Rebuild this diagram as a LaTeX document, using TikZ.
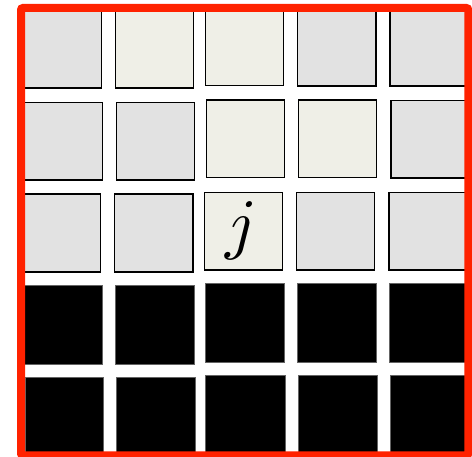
\documentclass[tikz,border=0pt]{standalone}
\definecolor{cellgray}{RGB}{226,226,226}
\definecolor{cellbeige}{RGB}{239,239,231}
\definecolor{framered}{RGB}{255,34,0}
\definecolor{darkedge}{RGB}{100,100,100}
\tikzset{
  graycell/.style={fill=cellgray,draw=black,line width=1.3pt},
  beigecell/.style={fill=cellbeige,draw=black,line width=1.3pt},
  blackcell/.style={fill=black,draw=darkedge,line width=0.8pt},
  frame/.style={draw=framered,line width=8pt,rounded corners=2pt}
}
\newcommand{\cellbox}[5]{\path[#1] (#2,#3) rectangle (#4,#5);}
\begin{document}
\begin{tikzpicture}[x=1pt,y=-1pt]
\useasboundingbox (0,0) rectangle (472,457);
% row 1
\cellbox{graycell}{23.3}{10}{101.3}{88}
\cellbox{beigecell}{115.7}{10}{193.7}{88}
\cellbox{beigecell}{205.3}{7.7}{283.7}{85.7}
\cellbox{graycell}{297.7}{8}{376}{86}
\cellbox{graycell}{390}{8}{468}{86}
% row 2
\cellbox{graycell}{24.3}{102.3}{102.3}{180}
\cellbox{graycell}{116.7}{102.3}{194.7}{180}
\cellbox{beigecell}{206.3}{100}{284.3}{177.7}
\cellbox{beigecell}{298.7}{100}{376.7}{177.7}
\cellbox{graycell}{391}{100.7}{469}{178}
% row 3
\cellbox{graycell}{22.7}{194}{100.7}{272}
\cellbox{graycell}{114.7}{194}{193}{272}
\cellbox{beigecell}{204.3}{192.3}{282.7}{270}
\cellbox{graycell}{296.3}{192.3}{374.7}{270}
\cellbox{graycell}{389}{192.3}{467}{270}
% row 4
\cellbox{blackcell}{24.3}{285.3}{102.3}{364.3}
\cellbox{blackcell}{115}{285.3}{194.3}{364.3}
\cellbox{blackcell}{205}{283.7}{284.3}{362.7}
\cellbox{blackcell}{297}{283.7}{376.7}{362.7}
\cellbox{blackcell}{389.3}{283.7}{468}{362.7}
% row 5
\cellbox{blackcell}{25}{377.3}{103}{455}
\cellbox{blackcell}{116}{377.3}{195.3}{455}
\cellbox{blackcell}{205.7}{375.3}{285.3}{453}
\cellbox{blackcell}{298}{375.3}{377.3}{453}
\cellbox{blackcell}{390.3}{375.3}{469}{453}
% label
\node[scale=6.8,inner sep=0pt] (j) at (241,231) {$j$};
% frame
\draw[frame] (21,8) rectangle (468.3,455.5);
\end{tikzpicture}
\end{document}
